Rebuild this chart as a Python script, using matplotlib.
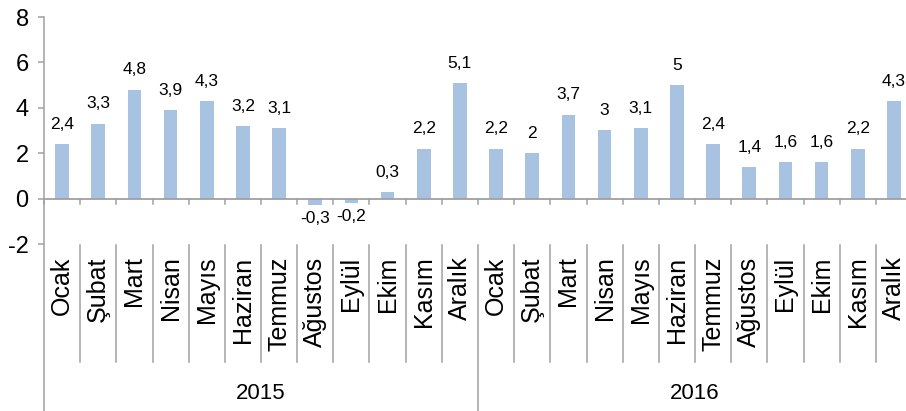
import numpy as np
import matplotlib.pyplot as plt

plt.rcParams['font.family'] = ['Liberation Sans', 'DejaVu Sans']

months = ["Ocak", "Şubat", "Mart", "Nisan", "Mayıs", "Haziran", "Temmuz",
          "Ağustos", "Eylül", "Ekim", "Kasım", "Aralık"]
years = ["2015", "2016"]
values_2015 = [2.4, 3.3, 4.8, 3.9, 4.3, 3.2, 3.1, -0.3, -0.2, 0.3, 2.2, 5.1]
values_2016 = [2.2, 2.0, 3.7, 3.0, 3.1, 5.0, 2.4, 1.4, 1.6, 1.6, 2.2, 4.3]

values = values_2015 + values_2016
labels = months * 2
x = np.arange(len(values))

bar_color = '#a7c3e1'
line_color = '#a0a0a0'

fig = plt.figure(figsize=(9.06, 4.11), dpi=100)
ax = fig.add_axes([44 / 906, 167 / 411, 868 / 906, 227 / 411])

ax.bar(x, values, width=0.38, color=bar_color, zorder=2)

for xi, v in zip(x, values):
    txt = f"{v:g}".replace('.', ',')
    if v >= 0:
        ax.annotate(txt, (xi, v), xytext=(0, 11), textcoords='offset points',
                    ha='center', va='baseline', fontsize=12.5)
    else:
        ax.annotate(txt, (xi, v), xytext=(0, -4), textcoords='offset points',
                    ha='center', va='top', fontsize=12.5)

ax.set_xlim(-0.5, len(values) - 0.5)
ax.set_ylim(-2, 8)
ax.set_yticks([-2, 0, 2, 4, 6, 8])
ax.set_yticklabels(['-2', '0', '2', '4', '6', '8'])
ax.tick_params(axis='y', labelsize=17, length=4, width=1.1, color=line_color, pad=7)
ax.set_xticks([])

for s in ['top', 'right', 'bottom']:
    ax.spines[s].set_visible(False)
ax.spines['left'].set_color(line_color)
ax.spines['left'].set_linewidth(1.1)

# zero line with small ticks
ax.axhline(0, color=line_color, lw=1.3, zorder=3)
for b in np.arange(len(values) + 1) - 0.5:
    ax.plot([b, b], [0, -0.22], color=line_color, lw=1.1, clip_on=False)

# category separators below the axis
for k, b in enumerate(np.arange(len(values) + 1) - 0.5):
    bottom = -9.4 if k % 12 == 0 else -7.18
    ax.plot([b, b], [-2.05, bottom], color=line_color, lw=1.1, clip_on=False)

for xi, lab in zip(x, labels):
    ax.text(xi, -2.55, lab, rotation=90, ha='center', va='top', fontsize=18,
            clip_on=False)

for i, yr in enumerate(years):
    ax.text(i * 12 + 5.5, -8.6, yr, ha='center', va='center', fontsize=16,
            clip_on=False)

fig.savefig("out.png", dpi=100)
